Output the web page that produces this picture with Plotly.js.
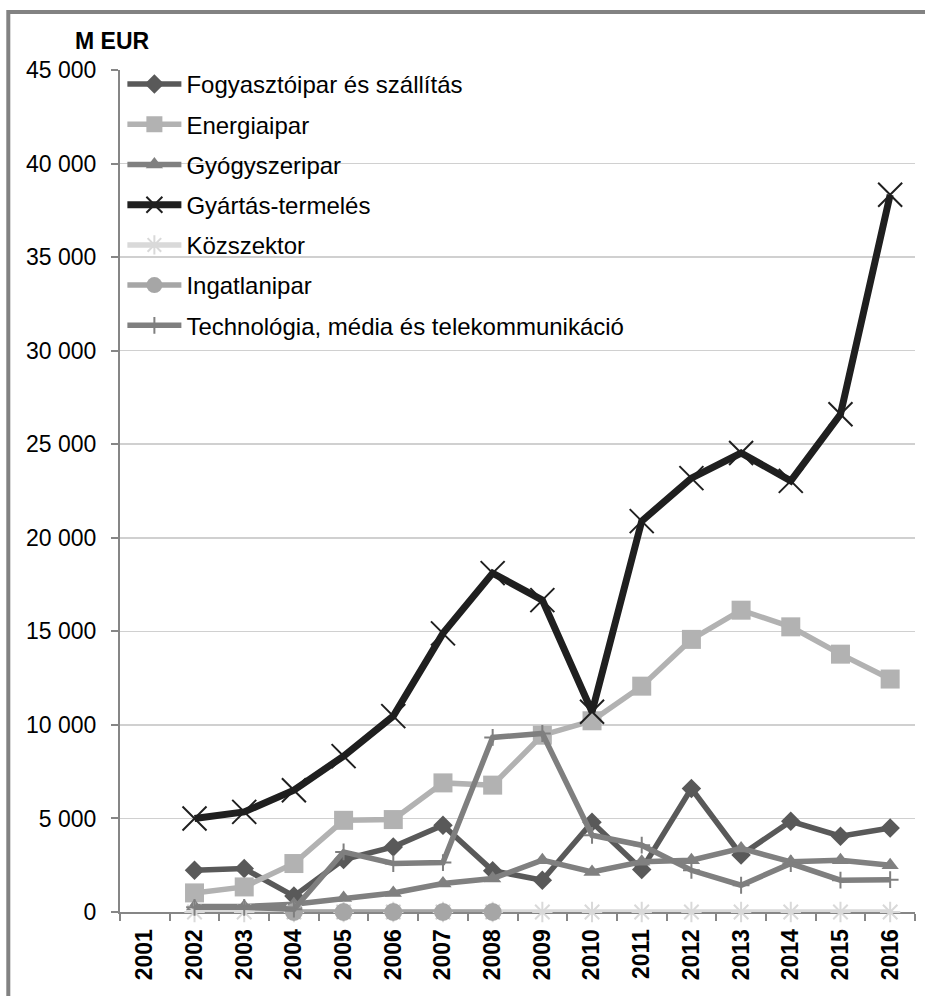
<!DOCTYPE html>
<html>
<head>
<meta charset="utf-8">
<script src="https://cdn.plot.ly/plotly-3.0.1.min.js"></script>
<style>
html,body{margin:0;padding:0;background:#fff;}
#chart{width:925px;height:996px;}
</style>
</head>
<body>
<div id="chart"></div>
<script>
const years = ['2001','2002','2003','2004','2005','2006','2007','2008','2009','2010','2011','2012','2013','2014','2015','2016'];
const seriesNames = ['Fogyasztóipar és szállítás','Energiaipar','Gyógyszeripar','Gyártás-termelés','Közszektor','Ingatlanipar','Technológia, média és telekommunikáció'];
const fogyasztoipar = [null, 2230, 2320, 850, 2800, 3480, 4640, 2210, 1700, 4800, 2270, 6600, 3050, 4850, 4050, 4490];
const energiaipar   = [null, 1020, 1340, 2590, 4900, 4940, 6900, 6780, 9450, 10220, 12070, 14570, 16130, 15240, 13780, 12450];
const gyogyszeripar = [null, 300, 300, 410, 750, 1020, 1520, 1790, 2770, 2140, 2680, 2770, 3400, 2680, 2770, 2500];
const gyartas       = [null, 5000, 5350, 6510, 8330, 10470, 14890, 18110, 16670, 10700, 20890, 23190, 24530, 23040, 26600, 38330];
const kozszektor    = [null, 0, 0, 0, 0, 0, 0, 0, 0, 0, 0, 0, 0, 0, 0, 0];
const ingatlanipar  = [null, null, null, 0, 0, 0, 0, 0, null, null, null, null, null, null, null, null];
const technologia   = [null, 250, 250, 150, 3210, 2590, 2640, 9330, 9540, 4100, 3570, 2230, 1430, 2590, 1700, 1730];

const FONT = 'Liberation Sans, Arial, sans-serif';

function tr(name, y, color, width, symbol, size, mline, group) {
  return {
    type: 'scatter', mode: 'lines+markers', name: name, x: years, y: y,
    legendgroup: group, cliponaxis: false,
    line: {color: color, width: width},
    marker: {symbol: symbol, size: size, color: color, line: {color: color, width: mline}},
    connectgaps: false
  };
}

const data = [
  tr(seriesNames[0], fogyasztoipar, '#595959', 5.5, 'diamond', 15, 0, 'g1'),
  tr(seriesNames[1], energiaipar, '#b2b2b2', 5.5, 'square', 19, 0, 'g2'),
  tr(seriesNames[2], gyogyszeripar, '#808080', 5.5, 'triangle-up', 15, 0, 'g3'),
  tr(seriesNames[3], gyartas, '#1f1f1f', 7, 'x-thin-open', 24, 2, 'g4'),
  tr(seriesNames[4], kozszektor, '#d9d9d9', 5.5, 'asterisk-open', 17, 2, 'g5'),
  tr(seriesNames[5], ingatlanipar, '#a6a6a6', 5.5, 'circle', 18, 0, 'g6'),
  tr(seriesNames[6], technologia, '#7f7f7f', 5.5, 'cross-thin-open', 12, 2, 'g7')
];

const layout = {
  width: 925, height: 996,
  margin: {l: 120, r: 10, t: 70, b: 84},
  paper_bgcolor: '#ffffff', plot_bgcolor: '#ffffff',
  font: {family: FONT, size: 23, color: '#000000'},
  separators: ', ',
  showlegend: true,
  legend: {
    x: 0.003, y: 1.0095, xanchor: 'left', yanchor: 'top',
    bgcolor: 'rgba(0,0,0,0)', borderwidth: 0,
    font: {family: FONT, size: 24, color: '#000'},
    itemwidth: 54, tracegroupgap: 6,
    traceorder: 'grouped'
  },
  xaxis: {
    type: 'category', range: [-0.5, 15.5],
    tickangle: -90, tickfont: {family: FONT, size: 23, color: '#000', weight: 'bold'},
    showline: true, linecolor: '#868686', linewidth: 2,
    ticks: 'outside', ticklen: 7, tickcolor: '#868686', tickwidth: 2,
    tickson: 'boundaries', showgrid: false, zeroline: false,
    ticklabelstandoff: 6, layer: 'below traces'
  },
  yaxis: {
    range: [0, 45000], dtick: 5000, tick0: 0,
    tickformat: ',d',
    tickfont: {family: FONT, size: 23, color: '#000'},
    showline: true, linecolor: '#868686', linewidth: 2,
    ticks: 'outside', ticklen: 7, tickcolor: '#868686', tickwidth: 2,
    showgrid: true, gridcolor: '#d0d0d0', gridwidth: 1.5,
    zeroline: false, ticklabelstandoff: 10, layer: 'below traces'
  },
  annotations: [{
    text: '<b>M EUR</b>', xref: 'paper', yref: 'paper',
    x: -0.009, y: 1.0344, xanchor: 'center', yanchor: 'middle',
    showarrow: false, font: {family: FONT, size: 23, color: '#000'}
  }],
  shapes: [{
    type: 'rect', xref: 'paper', yref: 'paper',
    x0: -0.1405, x1: 1.06, y0: -0.12, y1: 1.0689,
    line: {color: '#828282', width: 4}, fillcolor: 'rgba(0,0,0,0)', layer: 'above'
  }]
};

Plotly.newPlot('chart', data, layout, {displayModeBar: false, staticPlot: true});
</script>
</body>
</html>
